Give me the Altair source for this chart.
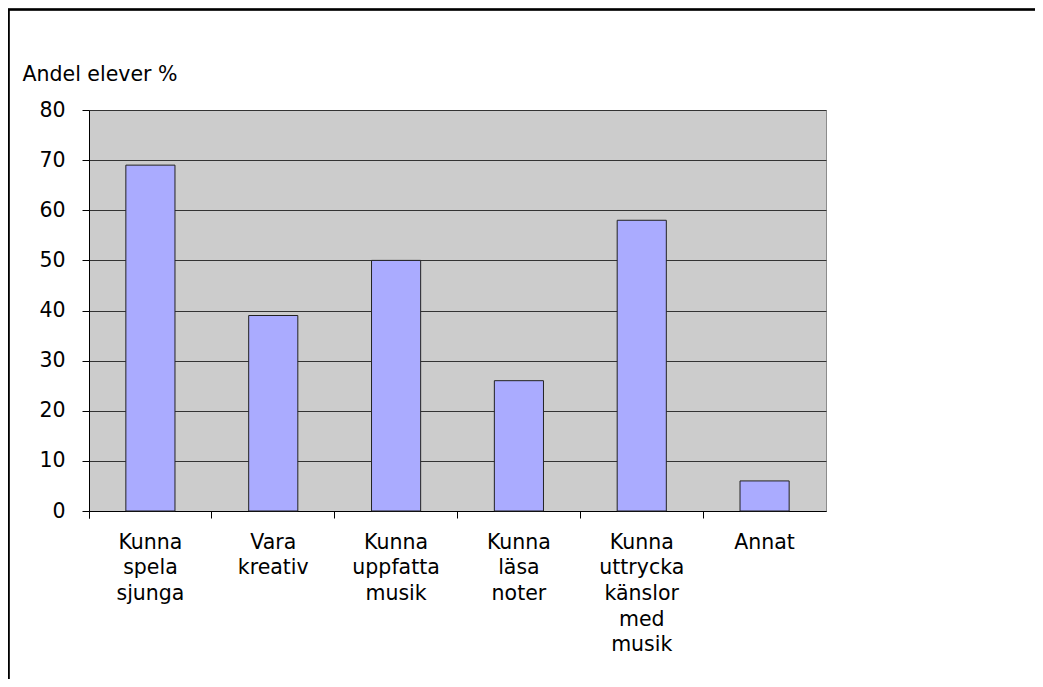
import altair as alt
import pandas as pd

categories = ["Kunna spela sjunga", "Vara kreativ", "Kunna uppfatta musik",
              "Kunna läsa noter", "Kunna uttrycka känslor med musik", "Annat"]
values = [69, 39, 50, 26, 58, 6]
y_ticks = [0, 10, 20, 30, 40, 50, 60, 70, 80]
y_title = "Andel elever %"

df = pd.DataFrame({"cat": categories, "val": values})

W, H = 737, 401
FONT = "DejaVu Sans"
FS = 20.5

bars = alt.Chart(df).mark_bar(
    width=alt.RelativeBandSize(0.4), color="#AAABFF", stroke="#222222", strokeWidth=1
).encode(
    x=alt.X("cat:N", sort=categories,
            scale=alt.Scale(paddingInner=0, paddingOuter=0),
            axis=alt.Axis(title=None, labelAngle=0, labelExpr="split(datum.label, ' ')",
                          bandPosition=0, tickExtra=True, tickSize=7, tickColor="#000000",
                          domainColor="#000000", labelPadding=14, labelLineHeight=25.7,
                          labelFont=FONT, labelFontSize=FS, labelColor="#000000",
                          labelBaseline="top", grid=False)),
    y=alt.Y("val:Q", scale=alt.Scale(domain=[0, 80], nice=False),
            axis=alt.Axis(values=y_ticks, title=y_title, titleAngle=0, titleAlign="left",
                          titleBaseline="middle", titleX=-67, titleY=-36,
                          titleFont=FONT, titleFontSize=FS, titleFontWeight="normal",
                          titleColor="#000000",
                          grid=True, gridColor="#333333", gridWidth=1,
                          tickSize=7, tickColor="#000000", domainColor="#000000",
                          labelPadding=17, labelFont=FONT, labelFontSize=FS,
                          labelColor="#000000")),
)

frame_top = alt.Chart(df).mark_rule(color="#000000", strokeWidth=1.5).encode(
    x=alt.value(-81), x2=alt.value(960), y=alt.value(-100.5))
frame_left = alt.Chart(df).mark_rule(color="#000000", strokeWidth=1.5).encode(
    x=alt.value(-80.5), y=alt.value(-101), y2=alt.value(600))

chart = alt.layer(bars, frame_top, frame_left).properties(
    width=W, height=H,
    autosize=alt.AutoSizeParams(type="none"),
    padding={"left": 81, "top": 102, "right": 209, "bottom": 168},
).configure_view(
    fill="#CCCCCC", stroke="#8C8C8C", strokeWidth=1
)

chart.save("out.html", embed_options={"renderer": "svg", "actions": False})
